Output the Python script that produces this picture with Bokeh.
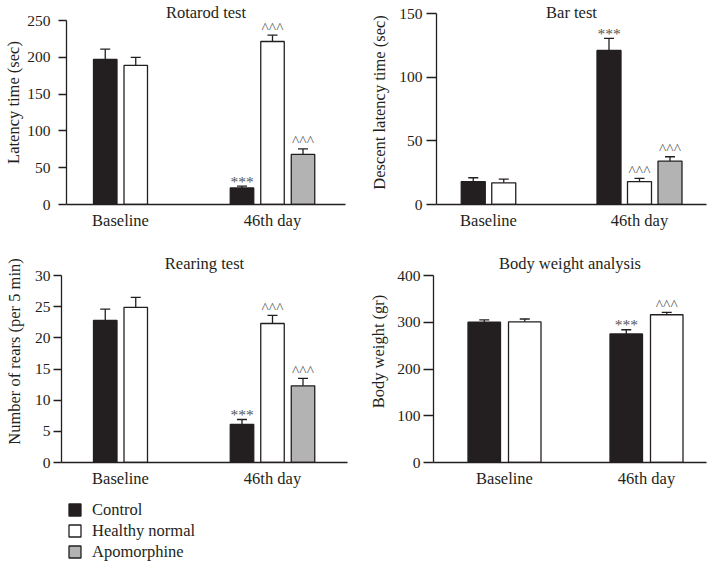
from bokeh.plotting import figure
from bokeh.models import (Range1d, FixedTicker, ColumnDataSource, Whisker, TeeHead,
                          Label, Legend, LegendItem)
from bokeh.layouts import column, row
from bokeh.core.properties import value
from bokeh.embed import file_html
from bokeh.resources import INLINE

# ---------------- data ----------------
groups = ["Baseline", "46th day"]
series = ["Control", "Healthy normal", "Apomorphine"]

rotarod_control = [197, 22.5]
rotarod_control_err = [14, 2.5]
rotarod_healthy = [189, 221.5]
rotarod_healthy_err = [11, 8.5]
rotarod_apo = [None, 68]
rotarod_apo_err = [None, 7.5]
rotarod_sig = [["", "***"], ["", "^^^"], ["", "^^^"]]

bar_control = [18, 121]
bar_control_err = [3, 9.5]
bar_healthy = [17, 18]
bar_healthy_err = [3, 2.5]
bar_apo = [None, 34]
bar_apo_err = [None, 3.5]
bar_sig = [["", "***"], ["", "^^^"], ["", "^^^"]]

rearing_control = [22.8, 6.1]
rearing_control_err = [1.8, 0.8]
rearing_healthy = [24.9, 22.3]
rearing_healthy_err = [1.6, 1.3]
rearing_apo = [None, 12.3]
rearing_apo_err = [None, 1.2]
rearing_sig = [["", "***"], ["", "^^^"], ["", "^^^"]]

weight_control = [300, 275]
weight_control_err = [5, 9]
weight_healthy = [301, 316]
weight_healthy_err = [6, 5]
weight_sig = [["", "***"], ["", "^^^"]]

# ---------------- style ----------------
FONT = "Liberation Serif"
INK = "#231f20"
FILLS = ["#231f20", "#ffffff", "#b3b3b3"]
TICK_SIZE = "15.5px"
TEXT_SIZE = "16.5px"


def style_bar(si):
    return dict(fill_color=FILLS[si], line_color=INK, line_width=1.3)


def make_panel(title, ylabel, ymax, ystep, means, errs, sigs, lay):
    fw, fh = lay["fw"], lay["fh"]
    # the frame reaches up to the title; the axis itself stops at ymax
    yend = ymax * fh / (fh - lay["top_px"])
    p = figure(frame_width=fw, frame_height=fh,
               x_range=Range1d(0, fw), y_range=Range1d(0, yend),
               output_backend="svg", toolbar_location=None,
               min_border_left=lay["bl"], min_border_right=lay["br"],
               min_border_top=0, min_border_bottom=lay["bb"],
               outline_line_color=None, background_fill_color="white",
               border_fill_color="white")
    p.xgrid.visible = False
    p.ygrid.visible = False

    present = [[si for si in range(len(means)) if means[si][gi] is not None]
               for gi in range(len(groups))]
    sources = []
    for si in range(len(means)):
        xs, tops, ups, marks, yo = [], [], [], [], []
        for gi in range(len(groups)):
            m = means[si][gi]
            if m is None:
                continue
            n = len(present[gi])
            k = present[gi].index(si)
            x = lay["centers"][gi] + (k - (n - 1) / 2) * lay["step"]
            xs.append(x)
            tops.append(m)
            ups.append(m + errs[si][gi])
            marks.append(sigs[si][gi])
            yo.append(-5 if sigs[si][gi].startswith("*") else -8)
        src = ColumnDataSource(dict(x=xs, top=tops, lower=tops, upper=ups,
                                    mark=marks, yo=yo))
        sources.append(src)
        w = Whisker(base="x", lower="lower", upper="upper", source=src,
                    line_color=INK, line_width=1.3, lower_head=None,
                    upper_head=TeeHead(size=10, line_color=INK, line_width=1.3))
        p.add_layout(w)
        p.vbar(x="x", top="top", bottom=0, width=lay["bw"], source=src,
               **style_bar(si))
        p.text(x="x", y="upper", text="mark", source=src, y_offset="yo",
               text_align="center", text_baseline="alphabetic",
               text_font=value(FONT), text_font_size=TICK_SIZE,
               text_color="#555555")

    # y axis
    ya = p.yaxis[0]
    ya.ticker = FixedTicker(ticks=list(range(0, ymax + 1, ystep)))
    ya.bounds = (0, ymax)
    ya.minor_tick_line_color = None
    ya.major_tick_in = 0
    ya.major_tick_out = lay["tick"]
    ya.major_label_standoff = lay["ls"]
    ya.axis_label = ylabel
    ya.axis_label_standoff = lay["als"]
    ya.axis_label_text_font = FONT
    ya.axis_label_text_font_style = "normal"
    ya.axis_label_text_font_size = TEXT_SIZE
    ya.axis_label_text_color = INK
    ya.major_label_text_font = FONT
    ya.major_label_text_font_size = TICK_SIZE
    ya.major_label_text_color = INK
    ya.axis_line_color = INK
    ya.axis_line_width = 1.3
    ya.major_tick_line_color = INK
    ya.major_tick_line_width = 1.3

    # x axis
    xa = p.xaxis[0]
    xa.ticker = FixedTicker(ticks=lay["centers"])
    xa.major_label_overrides = {c: g for c, g in zip(lay["centers"], groups)}
    xa.minor_tick_line_color = None
    xa.major_tick_line_color = None
    xa.major_tick_in = 0
    xa.major_tick_out = 0
    xa.major_label_standoff = 6
    xa.major_label_text_font = FONT
    xa.major_label_text_font_size = TEXT_SIZE
    xa.major_label_text_color = INK
    xa.axis_line_color = INK
    xa.axis_line_width = 1.3

    # panel title, inside the (extended) frame
    ty = yend * (1 - lay["title_px"] / fh)
    p.add_layout(Label(x=fw / 2, y=ty, x_units="data", y_units="data",
                       text=title, text_align="center", text_baseline="alphabetic",
                       text_font=FONT, text_font_size=TEXT_SIZE, text_color=INK))
    return p, sources


# row 1: canvas 0..240 (axis top 20 / 13, zero at 204); row 2: 240..492; legend below
L1 = dict(fw=279, fh=204, bl=66, br=10, bb=36, top_px=20, title_px=12,
          centers=[54, 206], step=30.5, bw=23.5, tick=8, ls=8, als=1)
L2 = dict(fw=270, fh=204, bl=81, br=3, bb=36, top_px=13, title_px=12,
          centers=[52, 203], step=30.5, bw=24, tick=10, ls=4, als=7)
L3 = dict(fw=286, fh=222, bl=61, br=8, bb=30, top_px=35, title_px=23,
          centers=[59, 211], step=30.5, bw=23.5, tick=8, ls=3, als=8)
L4 = dict(fw=273, fh=222, bl=78, br=3, bb=30, top_px=35, title_px=23,
          centers=[71, 213], step=40.5, bw=32.5, tick=10, ls=3, als=6)

p1, _ = make_panel("Rotarod test", "Latency time (sec)", 250, 50,
                   [rotarod_control, rotarod_healthy, rotarod_apo],
                   [rotarod_control_err, rotarod_healthy_err, rotarod_apo_err],
                   rotarod_sig, L1)
p2, _ = make_panel("Bar test", "Descent latency time (sec)", 150, 50,
                   [bar_control, bar_healthy, bar_apo],
                   [bar_control_err, bar_healthy_err, bar_apo_err],
                   bar_sig, L2)
p3, src3 = make_panel("Rearing test", "Number of rears (per 5 min)", 30, 5,
                      [rearing_control, rearing_healthy, rearing_apo],
                      [rearing_control_err, rearing_healthy_err, rearing_apo_err],
                      rearing_sig, L3)
p4, _ = make_panel("Body weight analysis", "Body weight (gr)", 400, 100,
                   [weight_control, weight_healthy],
                   [weight_control_err, weight_healthy_err],
                   weight_sig, L4)

# legend strip (its renderers share the series' sources but are hidden)
pl = figure(frame_width=250, frame_height=63, x_range=Range1d(0, 1), y_range=Range1d(0, 1),
            output_backend="svg", toolbar_location=None,
            x_axis_location=None, y_axis_location=None,
            min_border_left=67, min_border_right=0, min_border_top=7, min_border_bottom=0,
            outline_line_color=None, border_fill_color="white")
pl.xgrid.visible = False
pl.ygrid.visible = False
items = []
for si, s in enumerate(series):
    r = pl.vbar(x="x", top="top", bottom=0, width=1, source=src3[si],
                visible=False, **style_bar(si))
    items.append(LegendItem(label=s, renderers=[r]))
legend = Legend(items=items, location="top_left", orientation="vertical",
                glyph_width=15, glyph_height=15, label_height=21, label_standoff=10,
                spacing=0, padding=0, margin=0, click_policy="none",
                inactive_fill_alpha=0,
                border_line_color=None, background_fill_alpha=0,
                label_text_font=FONT, label_text_font_size=TEXT_SIZE,
                label_text_color=INK)
pl.add_layout(legend, "center")

layout = column(row(p1, p2, spacing=0), row(p3, p4, spacing=0), pl, spacing=0)

with open("out.html", "w") as f:
    f.write(file_html(layout, INLINE))
